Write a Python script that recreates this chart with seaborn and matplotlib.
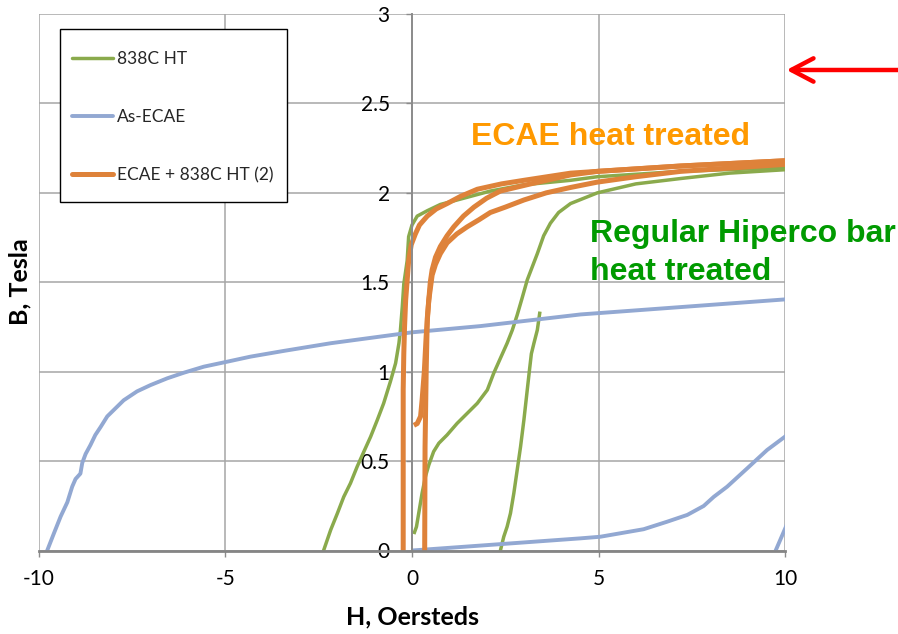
import numpy as np
import pandas as pd
import matplotlib
matplotlib.use("Agg")
import matplotlib.pyplot as plt
from matplotlib.lines import Line2D
from matplotlib.patches import Rectangle
import seaborn as sns

# ---- series (H in Oersteds, B in Tesla) ----
series_names = ["838C HT", "As-ECAE", "ECAE + 838C HT (2)"]
series_colors = ["#8AAA4C", "#92A8D2", "#DE823A"]
series_widths = [2.5, 2.8, 3.6]

# 838C HT
ht_initial_h = [0.05, 0.12, 0.18, 0.27, 0.36, 0.45, 0.58, 0.72, 0.94, 1.21, 1.48, 1.75, 2.02, 2.19,
                2.37, 2.55, 2.69, 2.82, 2.95, 3.09, 3.36, 3.53, 3.71, 3.93, 4.25, 4.97, 6.0, 7.2, 8.5, 10.06]
ht_initial_b = [0.092, 0.133, 0.208, 0.32, 0.413, 0.478, 0.553, 0.60, 0.646, 0.711, 0.767, 0.823, 0.898, 0.991,
                1.075, 1.159, 1.233, 1.317, 1.41, 1.513, 1.66, 1.76, 1.83, 1.89, 1.94, 2.00, 2.05, 2.08, 2.11, 2.13]
ht_desc_h = [10.06, 8.5, 7.2, 4.97, 4.25, 3.0, 2.1, 1.3, 0.76, 0.41, 0.14, 0.0, -0.09, -0.13, -0.22,
             -0.26, -0.31, -0.35, -0.44, -0.58, -0.76, -0.93, -1.11, -1.29, -1.47, -1.65, -1.83, -2.0,
             -2.18, -2.37, -2.45]
ht_desc_b = [2.14, 2.13, 2.12, 2.09, 2.07, 2.045, 2.01, 1.965, 1.935, 1.90, 1.87, 1.82, 1.755, 1.62, 1.49,
             1.364, 1.233, 1.159, 1.047, 0.944, 0.823, 0.73, 0.636, 0.553, 0.469, 0.376, 0.30, 0.208,
             0.115, 0.0, -0.05]
ht_return_h = [2.33, 2.37, 2.46, 2.55, 2.64, 2.73, 2.82, 2.91, 3.0, 3.09, 3.15, 3.20, 3.27, 3.36, 3.43]
ht_return_b = [-0.05, 0.0, 0.077, 0.133, 0.208, 0.32, 0.45, 0.58, 0.73, 0.898, 1.01, 1.10, 1.16, 1.233, 1.336]

# As-ECAE
ecae_initial_h = [0.0, 2.0, 4.52, 5.05, 6.21, 6.84, 7.38, 7.82, 8.09, 8.45, 8.99, 9.52, 10.06]
ecae_initial_b = [0.0, 0.03, 0.068, 0.077, 0.119, 0.161, 0.199, 0.249, 0.30, 0.357, 0.46, 0.562, 0.646]
ecae_desc_h = [10.06, 4.52, 1.84, 0.0, -2.18, -3.44, -4.33, -4.95, -5.58, -6.12, -6.56, -7.01, -7.37,
               -7.73, -7.95, -8.17, -8.35, -8.49, -8.62, -8.75, -8.84, -8.89, -9.02, -9.11, -9.24,
               -9.42, -9.60, -9.78, -9.85]
ecae_desc_b = [1.405, 1.32, 1.255, 1.22, 1.159, 1.116, 1.084, 1.056, 1.028, 0.994, 0.963, 0.925, 0.89,
               0.84, 0.795, 0.75, 0.69, 0.646, 0.59, 0.54, 0.49, 0.43, 0.40, 0.357, 0.27,
               0.19, 0.096, 0.0, -0.03]
ecae_return_h = [9.72, 9.75, 10.06]
ecae_return_b = [-0.03, 0.0, 0.15]

# ECAE + 838C HT (2)
ht2_initial_h = [0.05, 0.14, 0.23, 0.27, 0.33, 0.38, 0.45, 0.54, 0.63, 0.76, 0.94, 1.2, 1.48, 1.8, 2.1,
                 2.5, 3.0, 3.6, 4.25, 4.97, 6.0, 7.2, 10.06]
ht2_initial_b = [0.70, 0.71, 0.75, 0.84, 1.0, 1.2, 1.40, 1.54, 1.60, 1.66, 1.72, 1.77, 1.81, 1.85, 1.89,
                 1.92, 1.96, 2.0, 2.03, 2.06, 2.09, 2.12, 2.16]
ht2_desc_h = [10.06, 7.2, 4.97, 4.25, 3.0, 2.4, 1.75, 1.3, 0.94, 0.65, 0.41, 0.2, 0.09, -0.02, -0.09,
              -0.17, -0.20, -0.22, -0.236, -0.236, -0.236]
ht2_desc_b = [2.18, 2.15, 2.12, 2.11, 2.07, 2.05, 2.02, 1.98, 1.94, 1.91, 1.87, 1.82, 1.77, 1.71, 1.62,
              1.40, 1.25, 1.1, 0.9, 0.0, -0.05]
ht2_return_h = [0.34, 0.34, 0.35, 0.38, 0.41, 0.45, 0.49, 0.54, 0.63, 0.76, 0.94, 1.12, 1.38, 1.66, 2.0,
                2.37, 3.18, 4.25, 4.97, 7.2, 10.06]
ht2_return_b = [-0.05, 0.0, 0.58, 1.0, 1.3, 1.40, 1.50, 1.57, 1.64, 1.70, 1.76, 1.81, 1.87, 1.92, 1.97,
                2.01, 2.05, 2.10, 2.12, 2.15, 2.18]

x_ticks = [-10, -5, 0, 5, 10]
y_ticks = [0, 0.5, 1, 1.5, 2, 2.5, 3]
y_tick_labels = ["0", "0.5", "1", "1.5", "2", "2.5", "3"]

branches = {
    "838C HT": [(ht_initial_h, ht_initial_b), (ht_desc_h, ht_desc_b), (ht_return_h, ht_return_b)],
    "As-ECAE": [(ecae_initial_h, ecae_initial_b), (ecae_desc_h, ecae_desc_b), (ecae_return_h, ecae_return_b)],
    "ECAE + 838C HT (2)": [(ht2_initial_h, ht2_initial_b), (ht2_desc_h, ht2_desc_b), (ht2_return_h, ht2_return_b)],
}

rows = []
for name, parts in branches.items():
    for k, (hs, bs) in enumerate(parts):
        for i, (h, b) in enumerate(zip(hs, bs)):
            rows.append({"series": name, "branch": f"{name}-{k}", "order": i, "H": h, "B": b})
df = pd.DataFrame(rows)

sns.set_theme(style="white")
plt.rcParams["font.family"] = ["Lato", "DejaVu Sans"]

fig, ax = plt.subplots(figsize=(8.98, 6.34), dpi=100)
fig.subplots_adjust(left=39 / 898, right=785 / 898, bottom=1 - 550.5 / 634, top=1 - 14 / 634)

for name, color, lw in zip(series_names, series_colors, series_widths):
    sub = df[df["series"] == name]
    sns.lineplot(data=sub, x="H", y="B", units="branch", estimator=None, sort=False,
                 color=color, linewidth=lw, legend=False, ax=ax,
                 solid_joinstyle="round", solid_capstyle="butt")

ax.set_xlim(-10, 10)
ax.set_ylim(0, 3)
ax.set_xticks(x_ticks)
ax.set_xticklabels([str(v) for v in x_ticks])
ax.set_yticks(y_ticks)
ax.set_yticklabels(y_tick_labels)
ax.grid(True, color="#A6A6A6", linewidth=1.1)
ax.set_axisbelow(True)

for s in ["top", "right"]:
    ax.spines[s].set_visible(False)
ax.spines["left"].set_position(("data", 0))
ax.spines["left"].set_color("#8C8C8C")
ax.spines["left"].set_linewidth(1.4)
ax.spines["bottom"].set_color("#858585")
ax.spines["bottom"].set_linewidth(2.0)

ax.tick_params(axis="both", which="major", direction="out", length=4, width=1,
               color="#8C8C8C", labelsize=15, labelcolor="black")
ax.tick_params(axis="x", pad=9, bottom=True)
ax.tick_params(axis="y", pad=12, left=True)

ax.set_xlabel("")
ax.set_ylabel("")
fig.text(412 / 898, 1 - 617 / 634, "H, Oersteds", ha="center", va="center",
         fontsize=18, fontweight="bold", color="black")
fig.text(20 / 898, 1 - 282 / 634, "B, Tesla", ha="center", va="center", rotation=90,
         fontsize=18, fontweight="bold", color="black")

# legend box: framed panel in the upper left, entries placed inside it
ax.add_patch(Rectangle((0.0282, 0.6496), 0.3043, 0.3225, transform=ax.transAxes,
                       facecolor="white", edgecolor="black", linewidth=1.0,
                       zorder=4.9, clip_on=False))
handles = [Line2D([0], [0], color=c, lw=w) for c, w in zip(series_colors, series_widths)]
leg = ax.legend(handles, series_names, loc="upper left", bbox_to_anchor=(0.0442, 0.9307),
                fontsize=12.5, frameon=False, labelspacing=2.41, handlelength=2.36,
                handletextpad=0.23, borderpad=0.0, borderaxespad=0)

label_font = ["Liberation Sans", "DejaVu Sans"]
ax.text(1.57, 2.268, "ECAE heat treated", color="#FF9900", fontsize=23, fontweight="bold",
        family=label_font, va="baseline", ha="left")
ax.text(4.76, 1.727, "Regular Hiperco bar", color="#009A00", fontsize=23,
        fontweight="bold", family=label_font, va="baseline", ha="left", clip_on=False)
ax.text(4.76, 1.513, "heat treated", color="#009A00", fontsize=23,
        fontweight="bold", family=label_font, va="baseline", ha="left", clip_on=False)

ax.annotate("", xy=(10.04, 2.687), xycoords="data", xytext=(1.0, 1 - 70 / 634),
            textcoords="figure fraction", annotation_clip=False,
            arrowprops=dict(arrowstyle="->,head_length=0.8,head_width=0.42", color="#FF0000",
                            lw=3.2, mutation_scale=20, shrinkA=0, shrinkB=0))

fig.savefig("out.png", dpi=100)
